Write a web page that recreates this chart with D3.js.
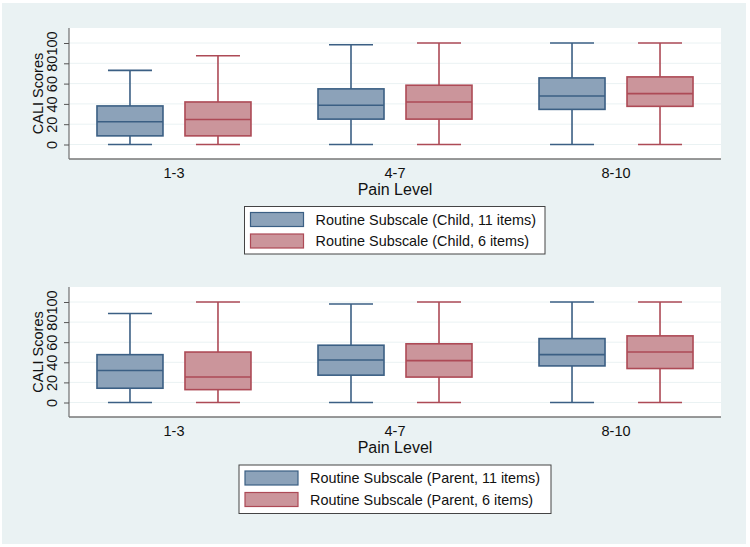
<!DOCTYPE html>
<html><head><meta charset="utf-8">
<script src="https://cdn.jsdelivr.net/npm/d3@7"></script>
<style>body{margin:0;background:#fff}svg{display:block}text{font-family:"Liberation Sans",Arial,sans-serif;fill:#111}</style>
</head><body>
<script>
const categories = ["1-3","4-7","8-10"];
const yTicks = [0,20,40,60,80,100];
const seriesNames = ["11 items","6 items"];
// [min, q1, median, q3, max] per category
const childItems11 = [[0,8.5,22.4,38,73],[0,25,38.6,54.8,98.3],[0,34.6,47.8,65.6,100]];
const childItems6  = [[0,8.5,24.7,41.9,87.4],[0,25,41.9,58.4,100],[0,37.6,50.1,66.6,100]];
const parentItems11 = [[0,14.2,31.9,47.6,88.5],[0,27.2,42.3,57,98],[0,36.4,47.6,63.6,100]];
const parentItems6  = [[0,12.8,25.3,50.2,100],[0,25.3,41.7,58.4,100],[0,33.8,50.2,66.3,100]];
const legendChild = ["Routine Subscale (Child, 11 items)","Routine Subscale (Child, 6 items)"];
const legendParent = ["Routine Subscale (Parent, 11 items)","Routine Subscale (Parent, 6 items)"];

const W=750,H=547;
const fills=["#8ca2b9","#cb959b"], strokes=["#3b5f84","#ad4a56"];
const svg=d3.select("body").append("svg").attr("width",W).attr("height",H);
svg.append("rect").attr("x",2).attr("y",3).attr("width",744).attr("height",541).attr("fill","#eaf2f3");

function panel(top, bottom, s1, s2, legend, lg){
  const L=69,R=721;
  const g=svg.append("g");
  const y=d3.scaleLinear().domain([0,100]).range([bottom-14.5, top+15]);
  const x=d3.scalePoint().domain(categories).range([L,R]).padding(0.475);
  g.append("rect").attr("x",L).attr("y",top).attr("width",R-L).attr("height",bottom-top).attr("fill","#fff");
  g.selectAll("line.grid").data(yTicks).join("line").attr("x1",L).attr("x2",R)
    .attr("y1",d=>y(d)).attr("y2",d=>y(d)).attr("stroke","#eaf2f3").attr("stroke-width",1);
  // y axis
  const ya=g.append("g").attr("transform",`translate(${L},0)`)
    .call(d3.axisLeft(y).tickValues(yTicks).tickSize(5).tickPadding(4));
  ya.select(".domain").attr("stroke","#555").attr("d",`M0,${top}V${bottom}`);
  ya.selectAll(".tick line").attr("stroke","#555");
  ya.selectAll(".tick text").attr("transform","rotate(-90)").attr("x",0).attr("y",-12)
    .attr("dy","0").attr("text-anchor","middle").style("font-size","14.5px").style("font-family","Liberation Sans, Arial").attr("fill","#111");
  g.append("line").attr("x1",L).attr("x2",R).attr("y1",bottom).attr("y2",bottom).attr("stroke","#777").attr("stroke-width",1.5);
  g.append("text").attr("transform",`translate(42.5,${(top+bottom)/2}) rotate(-90)`).attr("text-anchor","middle")
    .style("font-size","14.5px").text("CALI Scores");
  g.selectAll("text.cat").data(categories).join("text").attr("x",d=>x(d)).attr("y",bottom+19)
    .attr("text-anchor","middle").style("font-size","14.5px").text(d=>d);
  g.append("text").attr("x",(L+R)/2).attr("y",bottom+35.5).attr("text-anchor","middle").style("font-size","16px").text("Pain Level");
  const bw=66, cap=44;
  [s1,s2].forEach((s,i)=>{
    const off=i===0?-44:44;
    s.forEach((d,j)=>{
      const cx=x(categories[j])+off;
      const bg=g.append("g").attr("stroke",strokes[i]).attr("stroke-width",1.6);
      bg.append("line").attr("x1",cx).attr("x2",cx).attr("y1",y(d[3])).attr("y2",y(d[4]));
      bg.append("line").attr("x1",cx).attr("x2",cx).attr("y1",y(d[1])).attr("y2",y(d[0]));
      bg.append("line").attr("x1",cx-cap/2).attr("x2",cx+cap/2).attr("y1",y(d[4])).attr("y2",y(d[4]));
      bg.append("line").attr("x1",cx-cap/2).attr("x2",cx+cap/2).attr("y1",y(d[0])).attr("y2",y(d[0]));
      bg.append("rect").attr("x",cx-bw/2).attr("y",y(d[3])).attr("width",bw).attr("height",y(d[1])-y(d[3])).attr("fill",fills[i]);
      bg.append("line").attr("x1",cx-bw/2).attr("x2",cx+bw/2).attr("y1",y(d[2])).attr("y2",y(d[2]));
    });
  });
  // legend
  const lgG=svg.append("g");
  lgG.append("rect").attr("x",lg.x).attr("y",lg.y).attr("width",lg.w).attr("height",lg.h).attr("fill","#fff").attr("stroke","#444").attr("stroke-width",1);
  legend.forEach((t,i)=>{
    const yy=lg.y+6+i*21.5;
    lgG.append("rect").attr("x",lg.x+6).attr("y",yy).attr("width",53).attr("height",14).attr("fill",fills[i]).attr("stroke",strokes[i]).attr("stroke-width",1.2);
    lgG.append("text").attr("x",lg.x+71).attr("y",yy+12).style("font-size",lg.fs).text(t);
  });
}
panel(28,159,childItems11,childItems6,legendChild,{x:244.5,y:206.5,w:300.5,h:47.5,fs:"14.4px"});
panel(287,417,parentItems11,parentItems6,legendParent,{x:239,y:465,w:312,h:48.5,fs:"14.4px"});
</script>
</body></html>
